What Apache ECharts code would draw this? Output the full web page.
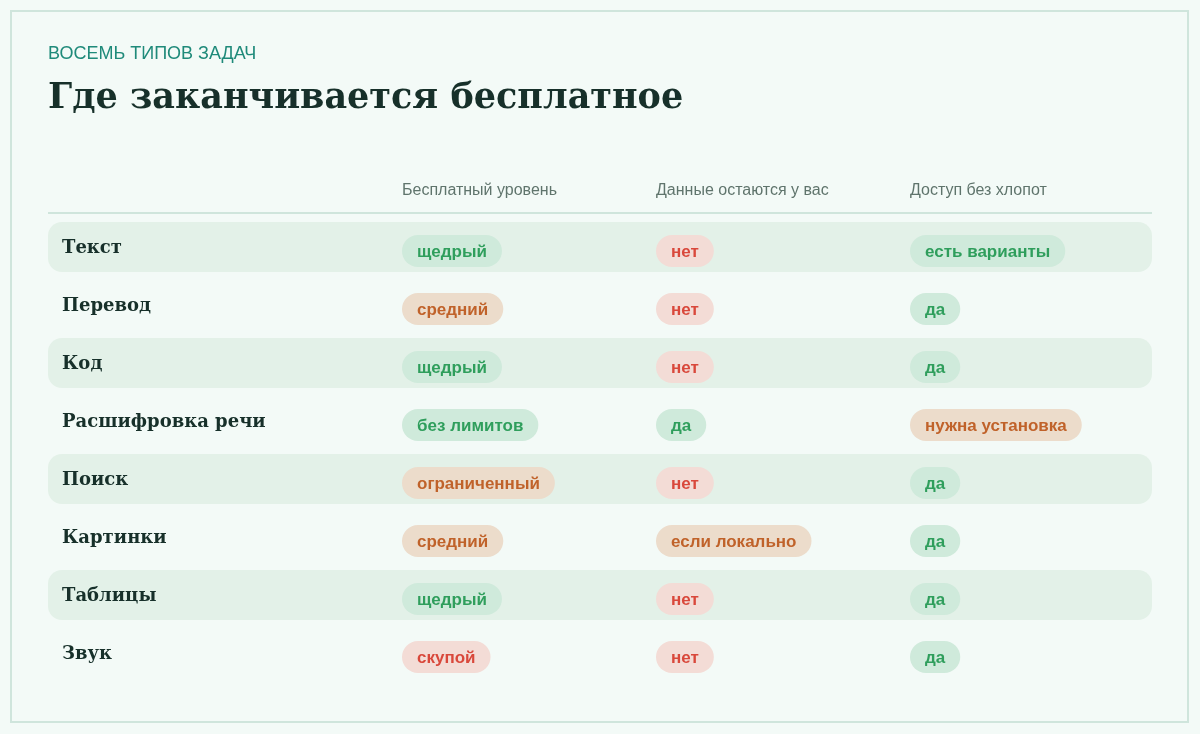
<!DOCTYPE html>
<html lang="ru">
<head>
<meta charset="UTF-8">
<title>Где заканчивается бесплатное</title>
<style>
  body { margin: 0; background: #f3faf7; }
  #chart { width: 1200px; height: 734px; }
</style>
<script src="https://cdn.jsdelivr.net/npm/echarts@6/dist/echarts.min.js"></script>
</head>
<body>
<div id="chart"></div>
<script>
var tasks = ['Текст', 'Перевод', 'Код', 'Расшифровка речи', 'Поиск', 'Картинки', 'Таблицы', 'Звук'];
var columns = ['Бесплатный уровень', 'Данные остаются у вас', 'Доступ без хлопот'];
var freeTier = ['щедрый', 'средний', 'щедрый', 'без лимитов', 'ограниченный', 'средний', 'щедрый', 'скупой'];
var freeTone = ['g', 'o', 'g', 'g', 'o', 'o', 'g', 'r'];
var privacy = ['нет', 'нет', 'нет', 'да', 'нет', 'если локально', 'нет', 'нет'];
var privacyTone = ['r', 'r', 'r', 'g', 'r', 'o', 'r', 'r'];
var access = ['есть варианты', 'да', 'да', 'нужна установка', 'да', 'да', 'да', 'да'];
var accessTone = ['g', 'g', 'g', 'o', 'g', 'g', 'g', 'g'];

var tones = {
  g: { fg: '#2f9e5c', bg: '#cfeadb' },
  o: { fg: '#c0622a', bg: '#ecdccb' },
  r: { fg: '#d9483b', bg: '#f3dcd6' }
};
var pillFont = 'bold 17px "Liberation Sans", Arial, sans-serif';
var ctx = document.createElement('canvas').getContext('2d');
ctx.font = pillFont;

var cells = [];
[[freeTier, freeTone], [privacy, privacyTone], [access, accessTone]].forEach(function (pair, c) {
  pair[0].forEach(function (v, r) { cells.push([c + 1, r, v, pair[1][r]]); });
});
var bands = tasks.map(function (t, r) { return [0, r, t]; });

var chart = echarts.init(document.getElementById('chart'));
chart.setOption({
  backgroundColor: '#f3faf7',
  title: [
    { text: 'ВОСЕМЬ ТИПОВ ЗАДАЧ', left: 43, top: 40,
      textStyle: { color: '#1f8a7a', fontSize: 18, fontWeight: 'normal', fontFamily: 'Liberation Sans, Arial, sans-serif' } },
    { text: 'Где заканчивается бесплатное', left: 43, top: 76,
      textStyle: { color: '#17302a', fontSize: 35, fontWeight: 'bold', fontFamily: 'DejaVu Serif, serif' } }
  ],
  graphic: [
    { type: 'rect', shape: { x: 11, y: 11, width: 1177, height: 711 }, style: { fill: 'none', stroke: '#cfe5dc', lineWidth: 2 } },
    { type: 'rect', shape: { x: 48, y: 212, width: 1104, height: 2 }, style: { fill: '#cfe5dc' } }
  ],
  grid: { left: 48, right: 48, top: 222, height: 464 },
  xAxis: { type: 'value', min: -100 / 254, max: 1004 / 254, show: false },
  yAxis: { type: 'category', data: tasks, inverse: true, show: false },
  series: [
    {
      type: 'custom', silent: true, data: bands,
      renderItem: function (params, api) {
        var r = api.value(1);
        var p = api.coord([api.value(0), r]);
        var left = params.coordSys.x, w = params.coordSys.width;
        var children = [];
        if (r % 2 === 0) {
          children.push({ type: 'rect', shape: { x: left, y: p[1] - 29, width: w, height: 50, r: 14 },
            style: { fill: '#e3f1e8' } });
        }
        children.push({ type: 'text', style: { text: tasks[r], x: left + 14, y: p[1] - 3,
          verticalAlign: 'middle', fill: '#17302a', font: 'bold 18px "DejaVu Serif", serif' } });
        return { type: 'group', children: children };
      }
    },
    {
      type: 'custom', silent: true, data: columns.map(function (c, i) { return [i + 1, 0, c]; }),
      renderItem: function (params, api) {
        var p = api.coord([api.value(0), 0]);
        return { type: 'text', style: { text: columns[params.dataIndex], x: p[0], y: 191,
          verticalAlign: 'middle', fill: '#5f746c', font: '16px "Liberation Sans", Arial, sans-serif' } };
      }
    },
    {
      type: 'custom', silent: true, data: cells,
      renderItem: function (params, api) {
        var d = cells[params.dataIndex];
        var p = api.coord([d[0], d[1]]);
        var t = tones[d[3]];
        var w = ctx.measureText(d[2]).width + 30;
        return { type: 'group', children: [
          { type: 'rect', shape: { x: p[0], y: p[1] - 16, width: w, height: 32, r: 16 }, style: { fill: t.bg } },
          { type: 'text', style: { text: d[2], x: p[0] + 15, y: p[1] + 1, verticalAlign: 'middle',
            fill: t.fg, font: pillFont } }
        ] };
      }
    }
  ]
});
</script>
</body>
</html>
